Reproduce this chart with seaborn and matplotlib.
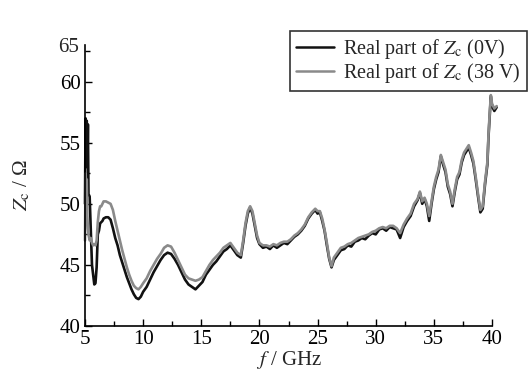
import numpy as np
import pandas as pd
import matplotlib
matplotlib.use("Agg")
import matplotlib.pyplot as plt
import seaborn as sns
from matplotlib.ticker import MultipleLocator
from matplotlib.lines import Line2D

freq = [
    5.0, 5.05, 5.1, 5.15, 5.2, 5.25, 5.3, 5.4, 5.5, 5.6,
    5.7, 5.8, 5.9, 6.0, 6.1, 6.2, 6.3, 6.4, 6.5, 6.6,
    6.8, 7.0, 7.2, 7.4, 7.6, 7.8, 8.0, 8.2, 8.4, 8.6,
    8.8, 9.0, 9.2, 9.4, 9.6, 9.8, 10.0, 10.3, 10.6, 10.9,
    11.2, 11.5, 11.8, 12.1, 12.4, 12.7, 13.0, 13.3, 13.6, 13.9,
    14.2, 14.5, 14.8, 15.1, 15.4, 15.7, 16.0, 16.3, 16.6, 16.9,
    17.2, 17.5, 17.8, 18.1, 18.4, 18.6, 18.8, 19.0, 19.2, 19.4,
    19.6, 19.8, 20.0, 20.3, 20.6, 20.9, 21.2, 21.5, 21.8, 22.1,
    22.4, 22.7, 23.0, 23.3, 23.6, 23.9, 24.2, 24.5, 24.8, 25.0,
    25.2, 25.4, 25.6, 25.8, 26.0, 26.2, 26.4, 26.7, 27.0, 27.3,
    27.6, 27.9, 28.2, 28.5, 28.8, 29.1, 29.4, 29.7, 30.0, 30.3,
    30.6, 30.9, 31.2, 31.5, 31.8, 32.1, 32.4, 32.7, 33.0, 33.3,
    33.6, 33.8, 34.0, 34.2, 34.4, 34.6, 34.8, 35.0, 35.2, 35.4,
    35.6, 35.8, 36.0, 36.2, 36.4, 36.6, 36.8, 37.0, 37.2, 37.4,
    37.6, 37.8, 38.0, 38.2, 38.4, 38.6, 38.8, 39.0, 39.2, 39.4,
    39.6, 39.7, 39.8, 39.9, 40.0, 40.2, 40.4,
]

zc_0v = [
    50.0, 57.0, 54.5, 56.8, 53.0, 56.5, 50.8, 50.6, 47.8, 45.0,
    44.2, 43.4, 43.5, 44.8, 47.5, 47.8, 48.4, 48.5, 48.6, 48.8,
    48.9, 48.9, 48.7, 48.0, 47.2, 46.6, 45.8, 45.2, 44.6, 44.0,
    43.5, 43.0, 42.6, 42.3, 42.2, 42.4, 42.8, 43.2, 43.8, 44.4,
    44.9, 45.4, 45.8, 46.0, 45.9, 45.5, 45.0, 44.4, 43.8, 43.4,
    43.2, 43.0, 43.3, 43.6, 44.2, 44.6, 45.0, 45.3, 45.7, 46.1,
    46.3, 46.6, 46.2, 45.8, 45.6, 46.8, 48.2, 49.2, 49.7, 49.2,
    48.2, 47.2, 46.7, 46.4, 46.5, 46.3, 46.6, 46.4, 46.6, 46.8,
    46.7, 47.0, 47.3, 47.5, 47.8, 48.2, 48.8, 49.2, 49.5, 49.2,
    49.3, 48.6, 47.8, 46.6, 45.5, 44.8, 45.4, 45.8, 46.2, 46.3,
    46.6, 46.5, 46.9, 47.0, 47.2, 47.1, 47.4, 47.6, 47.5, 47.9,
    48.0, 47.8, 48.1, 48.0, 47.9, 47.2, 48.1, 48.6, 49.0, 49.8,
    50.3, 50.9, 50.0, 50.4, 49.8, 48.6, 50.0, 51.2, 52.0, 52.6,
    53.9, 53.2, 52.6, 51.4, 50.8, 49.8, 51.0, 52.0, 52.4, 53.4,
    54.0, 54.3, 54.6, 54.0, 53.3, 52.0, 50.6, 49.3, 49.6, 51.6,
    53.2, 55.5, 57.2, 58.8, 58.0, 57.6, 57.9,
]

zc_38v = [
    47.0, 52.5, 51.0, 52.0, 49.0, 48.0, 47.5, 47.0, 47.2, 46.8,
    46.6, 46.7, 46.6, 47.0, 48.5, 49.4, 49.8, 49.8, 50.0, 50.2,
    50.2, 50.1, 50.0, 49.5, 48.6, 47.8, 47.0, 46.2, 45.5, 44.8,
    44.2, 43.7, 43.3, 43.1, 43.0, 43.2, 43.5, 43.9, 44.5, 45.0,
    45.5, 45.9, 46.4, 46.6, 46.5, 46.0, 45.4, 44.8, 44.2, 43.9,
    43.8, 43.7, 43.8, 44.0, 44.5, 45.0, 45.4, 45.7, 46.0, 46.4,
    46.6, 46.8, 46.4, 46.0, 45.8, 47.0, 48.4, 49.4, 49.8, 49.4,
    48.4, 47.4, 46.8, 46.6, 46.6, 46.5, 46.7, 46.6, 46.8, 46.9,
    46.9, 47.1, 47.4, 47.6, 47.9, 48.3, 48.9, 49.3, 49.6, 49.4,
    49.4, 48.8, 47.9, 46.8, 45.6, 44.9, 45.6, 46.0, 46.4, 46.5,
    46.7, 46.8, 47.0, 47.2, 47.3, 47.4, 47.5, 47.7, 47.8, 48.0,
    48.1, 48.0, 48.2, 48.2, 48.0, 47.6, 48.3, 48.8, 49.2, 50.0,
    50.4, 51.0, 50.2, 50.5, 50.0, 49.0, 50.2, 51.4, 52.2, 52.8,
    54.0, 53.4, 52.8, 51.6, 51.0, 50.0, 51.2, 52.2, 52.6, 53.6,
    54.2, 54.5, 54.8, 54.2, 53.5, 52.2, 50.8, 49.5, 49.8, 51.8,
    53.4, 55.7, 57.4, 58.9, 58.2, 57.8, 58.0,
]

series_names = ["0V", "38 V"]
legend_labels = [r"Real part of $Z_\mathrm{c}$ (0V)", r"Real part of $Z_\mathrm{c}$ (38 V)"]
x_ticks = [5, 10, 15, 20, 25, 30, 35, 40]
y_ticks = [40, 45, 50, 55, 60]
top_label = "65"

sns.set_style("ticks")
plt.rcParams["font.family"] = ["Liberation Serif", "DejaVu Serif"]
plt.rcParams["mathtext.fontset"] = "stix"

df = pd.DataFrame({
    "f": freq * 2,
    "Zc": zc_0v + zc_38v,
    "series": [series_names[0]] * len(freq) + [series_names[1]] * len(freq),
})

fig = plt.figure(figsize=(5.29, 3.75), dpi=100)
ax = fig.add_axes([85 / 529, 1 - 326 / 375, (492 - 85) / 529, (326 - 45) / 375])

palette = {series_names[0]: "#111111", series_names[1]: "#8a8a8a"}
sns.lineplot(data=df, x="f", y="Zc", hue="series", palette=palette, ax=ax,
             estimator=None, sort=False, linewidth=1.9, legend=False)
for ln in ax.get_lines():
    ln.set_clip_on(False)

ax.set_xlim(5, 40)
ax.set_ylim(40, 63.0)
ax.set_xticks(x_ticks)
ax.set_yticks(y_ticks)
ax.xaxis.set_minor_locator(MultipleLocator(2.5))
ax.yaxis.set_minor_locator(MultipleLocator(2.5))
ax.tick_params(which="major", direction="in", length=5, width=1, labelsize=15, colors="black")
ax.tick_params(axis="x", which="major", pad=3)
ax.tick_params(axis="y", which="major", pad=3)
ax.tick_params(which="minor", direction="in", length=3.5, width=1, colors="black")
for s in ["top", "right"]:
    ax.spines[s].set_visible(False)
for s in ["left", "bottom"]:
    ax.spines[s].set_linewidth(1.2)
    ax.spines[s].set_color("black")

ax.annotate(top_label, xy=(0, 1), xycoords="axes fraction", xytext=(-4, -2),
            textcoords="offset points", ha="right", va="center", fontsize=15)

ax.set_xlabel(r"$f$ / GHz", fontsize=15, labelpad=0)
ax.set_ylabel(r"$Z_\mathrm{c}$ / Ω", fontsize=15, labelpad=20)

handles = [Line2D([], [], color=palette[n], lw=1.8) for n in series_names]
leg = fig.legend(handles, legend_labels, loc="upper right",
                 bbox_to_anchor=(527 / 529, 1 - 31 / 375), bbox_transform=fig.transFigure,
                 fontsize=14.5, frameon=True, fancybox=False, borderaxespad=0,
                 handlelength=1.9, handletextpad=0.45, borderpad=0.3, labelspacing=0.0)
leg.get_frame().set_edgecolor("black")
leg.get_frame().set_linewidth(1.2)

fig.savefig("out.png", dpi=100)
